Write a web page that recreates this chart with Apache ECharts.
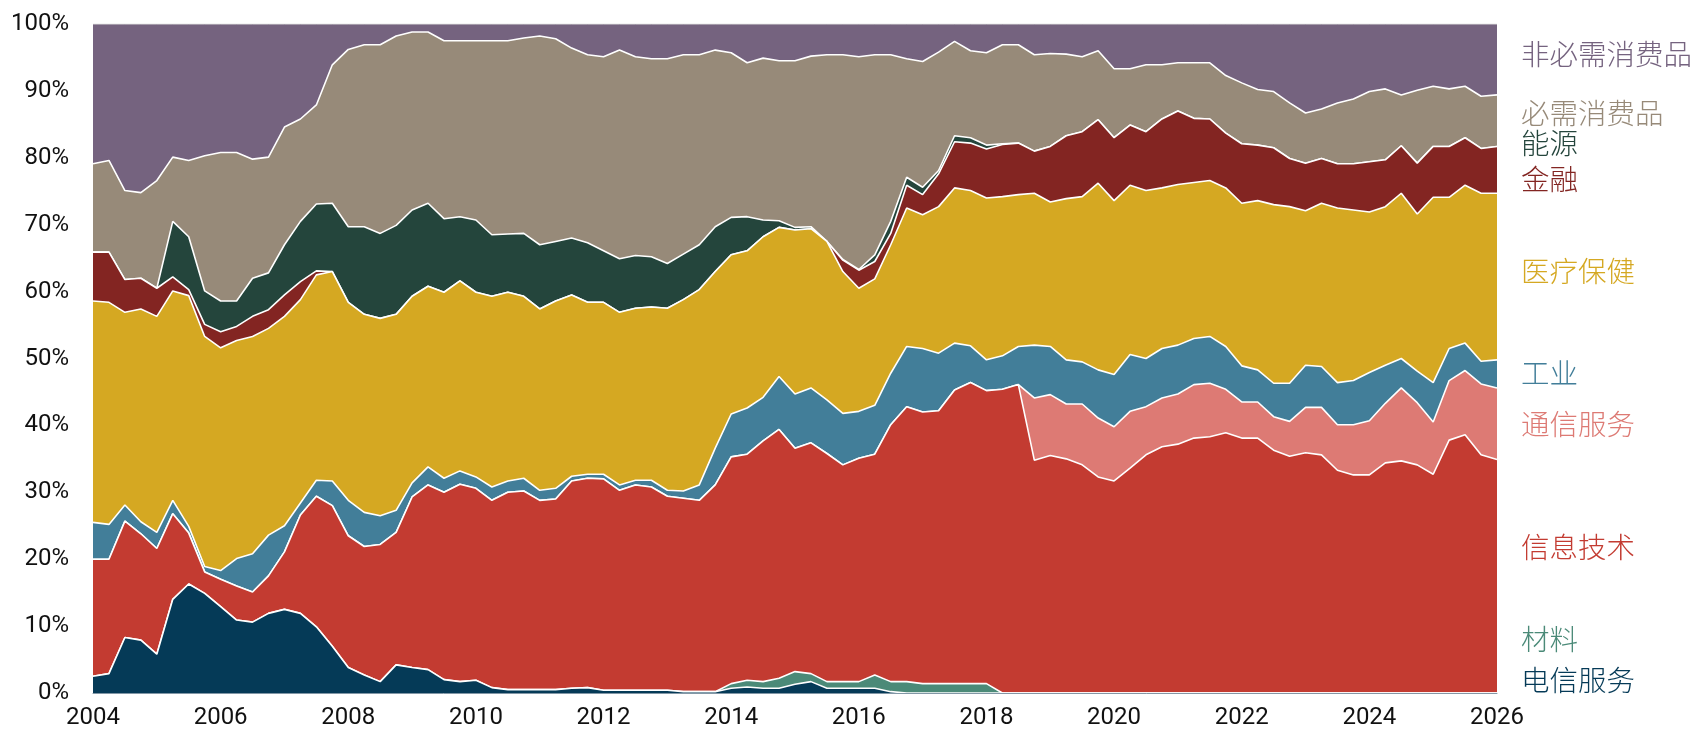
<!DOCTYPE html>
<html>
<head>
<meta charset="utf-8"/>
<style>
  html, body { margin: 0; padding: 0; background: #fff; }
  #main { width: 1697px; height: 742px; }
</style>
</head>
<body>
<div id="main"></div>
<script src="https://cdn.jsdelivr.net/npm/echarts@6.0.0/dist/echarts.min.js"></script>
<script type="text/javascript">
// 季度时间轴 (2004 - 2026)
var quarters = [2004,2004.25,2004.5,2004.75,2005,2005.25,2005.5,2005.75,2006,2006.25,2006.5,2006.75,
  2007,2007.25,2007.5,2007.75,2008,2008.25,2008.5,2008.75,2009,2009.25,2009.5,2009.75,
  2010,2010.25,2010.5,2010.75,2011,2011.25,2011.5,2011.75,2012,2012.25,2012.5,2012.75,
  2013,2013.25,2013.5,2013.75,2014,2014.25,2014.5,2014.75,2015,2015.25,2015.5,2015.75,
  2016,2016.25,2016.5,2016.75,2017,2017.25,2017.5,2017.75,2018,2018.25,2018.5,2018.75,
  2019,2019.25,2019.5,2019.75,2020,2020.25,2020.5,2020.75,2021,2021.25,2021.5,2021.75,
  2022,2022.25,2022.5,2022.75,2023,2023.25,2023.5,2023.75,2024,2024.25,2024.5,2024.75,
  2025,2025.25,2025.5,2025.75,2026];

var yTicks = [0,10,20,30,40,50,60,70,80,90,100];

// 各行业权重 (%)，自下而上
var telecom = [2.5,2.9,8.3,7.9,5.8,14.0,16.3,14.9,12.9,10.9,10.6,11.9,12.5,11.9,9.9,7.0,
  3.8,2.7,1.7,4.2,3.8,3.5,2.0,1.7,1.9,0.8,0.5,0.5,0.5,0.5,0.7,0.8,
  0.4,0.4,0.4,0.4,0.4,0.2,0.2,0.2,0.7,0.9,0.7,0.7,1.3,1.7,0.7,0.7,
  0.7,0.7,0.2,0,0,0,0,0,0,0,0,0,0,0,0,0,
  0,0,0,0,0,0,0,0,0,0,0,0,0,0,0,0,
  0,0,0,0,0,0,0,0,0];
var materials = [0,0,0,0,0,0,0,0,0,0,0,0,0,0,0,0,
  0,0,0,0,0,0,0,0,0,0,0,0,0,0,0,0,
  0,0,0,0,0,0,0,0,0.7,1.0,1.0,1.5,1.9,1.2,1.0,1.0,
  1.0,2.0,1.5,1.7,1.4,1.4,1.4,1.4,1.4,0,0,0,0,0,0,0,
  0,0,0,0,0,0,0,0,0,0,0,0,0,0,0,0,
  0,0,0,0,0,0,0,0,0];
var infoTech = [17.5,17.1,17.4,15.9,15.8,12.8,7.6,3.2,4.1,5.1,4.5,5.6,8.6,14.7,19.5,21.0,
  19.7,19.2,20.5,19.8,25.5,27.6,28.0,29.5,28.7,28.0,29.5,29.7,28.3,28.5,31.0,31.3,
  31.6,29.9,30.7,30.4,29.0,28.9,28.6,30.9,33.9,33.8,36.0,37.2,33.4,34.5,34.1,32.4,
  33.4,33.0,38.4,41.1,40.6,40.8,43.9,45.0,43.8,45.4,46.1,34.8,35.5,35.0,34.1,32.3,
  31.7,33.6,35.6,36.8,37.2,38.1,38.3,38.9,38.1,38.1,36.3,35.4,35.9,35.6,33.3,32.6,
  32.6,34.4,34.7,34.1,32.7,37.8,38.6,35.6,34.9];
var commServices = [0,0,0,0,0,0,0,0,0,0,0,0,0,0,0,0,
  0,0,0,0,0,0,0,0,0,0,0,0,0,0,0,0,
  0,0,0,0,0,0,0,0,0,0,0,0,0,0,0,0,
  0,0,0,0,0,0,0,0,0,0,0,9.3,9.1,8.2,9.1,8.8,
  8.1,8.5,7.2,7.3,7.5,8.0,8.0,6.5,5.4,5.4,5.0,5.2,6.8,7.1,6.8,7.5,
  8.1,8.9,10.9,9.3,7.8,8.9,9.6,10.6,10.7];
var industrials = [5.5,5.2,2.4,1.8,2.4,2.0,1.0,0.8,1.3,4.1,5.7,6.1,3.9,1.8,2.4,3.7,
  5.3,5.1,4.3,3.3,2.1,2.7,2.1,2.0,1.7,2.0,1.7,1.9,1.5,1.6,0.7,0.6,
  0.7,0.8,0.7,1.0,0.9,1.1,2.3,5.5,6.4,6.9,6.5,7.9,8.1,8.2,8.0,7.7,
  7.0,7.3,7.7,9.0,9.5,8.6,7.0,5.5,4.6,5.0,5.7,7.9,7.2,6.6,6.3,7.2,
  7.8,8.5,7.2,7.4,7.3,6.9,7.0,6.4,5.4,4.8,5.0,5.7,6.3,6.1,6.3,6.6,
  7.2,5.7,4.4,4.7,5.9,4.8,4.1,3.4,4.2];
var healthCare = [33.1,33.2,28.8,31.8,32.3,31.3,34.5,34.4,33.3,32.6,32.5,30.9,31.3,30.4,30.7,31.3,
  29.6,29.6,29.5,29.3,27.9,27.0,27.8,28.4,27.6,28.5,28.2,27.2,27.1,28.0,27.1,25.7,
  25.7,25.8,25.7,25.9,27.2,28.6,29.2,26.4,23.8,23.5,24.0,22.3,24.5,23.8,23.7,21.2,
  18.4,18.9,19.2,20.7,20.0,21.9,23.2,23.2,24.2,23.8,22.7,22.7,21.6,24.1,24.7,27.9,
  26.0,25.3,25.1,24.0,24.0,23.3,23.3,23.7,24.3,25.3,26.7,26.4,23.1,24.4,26.1,25.5,
  24.0,23.7,24.7,23.5,27.7,22.6,23.6,25.1,24.9];
var financials = [7.3,7.5,4.9,4.6,4.2,2.1,0.9,1.8,2.4,2.1,3.0,2.8,3.2,2.7,0.6,0,
  0,0,0,0,0,0,0,0,0,0,0,0,0,0,0,0,
  0,0,0,0,0,0,0,0,0,0,0,0,0,0,0,1.7,
  2.7,2.6,1.7,3.4,3.0,4.9,6.9,7.1,7.3,7.8,7.7,6.3,8.3,9.4,9.7,9.5,
  9.4,9.0,8.8,10.3,11.0,9.6,9.2,8.2,8.9,8.3,8.5,7.2,7.1,6.7,6.6,6.9,
  7.5,7.0,7.1,7.6,7.6,7.6,7.1,6.7,7.0];
var energy = [0,0,0,0,0,8.3,7.9,5.0,4.6,3.8,5.7,5.5,7.5,9.0,10.0,10.2,
  11.3,13.1,12.7,13.3,12.9,12.4,11.0,9.6,10.8,9.2,8.7,9.4,9.6,8.9,8.5,8.9,
  7.7,8.0,7.9,7.5,6.7,6.8,6.7,6.7,5.6,5.1,2.5,1.0,0.4,0.3,0,0.1,
  0.1,1.0,1.8,1.2,1.1,0.5,0.9,0.8,0.6,0.1,0,0,0,0,0,0,
  0,0,0,0,0,0,0,0,0,0,0,0,0,0,0,0,
  0,0,0,0,0,0,0,0,0];
var staples = [13.2,13.7,13.3,12.8,16.1,9.6,11.4,20.2,22.2,22.2,17.8,17.3,17.6,15.3,14.8,20.7,
  26.5,27.2,28.2,28.3,26.6,25.6,26.6,26.3,26.8,29.0,28.9,29.2,31.2,30.3,28.4,28.1,
  29.0,31.2,29.7,29.6,30.6,29.8,28.4,26.4,24.6,23.0,24.2,23.9,24.9,25.5,27.9,30.6,
  31.8,29.9,24.9,17.7,18.8,17.7,14.1,13.0,13.8,14.8,14.7,14.4,13.9,12.2,11.2,10.3,
  10.3,8.4,10.0,8.1,7.2,8.3,8.4,8.6,9.1,8.3,8.4,8.3,7.5,7.4,9.1,9.7,
  10.5,10.6,7.6,10.9,9.0,8.6,7.7,7.8,7.7];
var discretionary = [20.9,20.4,24.9,25.2,23.4,19.9,20.4,19.7,19.2,19.2,20.2,19.9,15.4,14.2,12.1,6.1,
  3.8,3.1,3.1,1.8,1.2,1.2,2.5,2.5,2.5,2.5,2.5,2.1,1.8,2.2,3.6,4.6,
  4.9,3.9,4.9,5.2,5.2,4.6,4.6,3.9,4.3,5.8,5.1,5.5,5.5,4.8,4.6,4.6,
  4.9,4.6,4.6,5.2,5.6,4.2,2.6,4.0,4.3,3.1,3.1,4.6,4.4,4.5,4.9,4.0,
  6.7,6.7,6.1,6.1,5.8,5.8,5.8,7.7,8.8,9.8,10.1,11.8,13.3,12.7,11.8,11.2,
  10.1,9.7,10.6,9.9,9.3,9.7,9.3,10.8,10.6];

var sectors = [
  {name: '电信服务', data: telecom, color: '#053a57', labelY: 680},
  {name: '材料', data: materials, color: '#4b8a78', labelY: 639},
  {name: '信息技术', data: infoTech, color: '#c33b31', labelY: 547},
  {name: '通信服务', data: commServices, color: '#dd7a74', labelY: 424},
  {name: '工业', data: industrials, color: '#427e99', labelY: 373},
  {name: '医疗保健', data: healthCare, color: '#d5a822', labelY: 271},
  {name: '金融', data: financials, color: '#832522', labelY: 179},
  {name: '能源', data: energy, color: '#24453c', labelY: 143},
  {name: '必需消费品', data: staples, color: '#978a79', labelY: 113},
  {name: '非必需消费品', data: discretionary, color: '#75637f', labelY: 54}
];

var myChart = echarts.init(document.getElementById('main'));

var seriesList = sectors.map(function (s, i) {
  var top = i === sectors.length - 1;
  return {
    name: s.name,
    type: 'line',
    stack: 'total',
    data: s.data,
    symbol: 'none',
    smooth: false,
    z: 30 - i,
    lineStyle: {color: top ? '#d8d8d8' : '#ffffff', width: top ? 1 : 1.6},
    areaStyle: {color: s.color, opacity: 1},
    itemStyle: {color: s.color},
    emphasis: {disabled: true}
  };
});

var labels = sectors.map(function (s) {
  return {
    type: 'text',
    x: 1521,
    y: s.labelY,
    style: {
      text: s.name,
      fill: s.color,
      font: '300 28.5px "Noto Sans CJK SC"',
      textAlign: 'left',
      verticalAlign: 'middle',
      textVerticalAlign: 'middle'
    }
  };
});

var options = {
  animation: false,
  grid: {left: 93, right: 200, top: 24, bottom: 49, containLabel: false},
  xAxis: {
    type: 'category',
    boundaryGap: false,
    data: quarters,
    axisTick: {show: false},
    axisLine: {show: true, lineStyle: {color: '#8297a6', width: 1}},
    axisLabel: {
      interval: 7,
      margin: 13,
      color: '#111',
      fontFamily: 'Roboto',
      fontSize: 24,
      formatter: function (v) { return String(Math.round(Number(v))); }
    },
    splitLine: {show: false},
    z: 40
  },
  yAxis: {
    type: 'value',
    min: yTicks[0],
    max: yTicks[yTicks.length - 1],
    interval: 10,
    axisLine: {show: false},
    axisTick: {show: false},
    splitLine: {show: false},
    axisLabel: {
      margin: 24,
      color: '#111',
      fontFamily: 'Roboto',
      fontSize: 24,
      formatter: '{value}%'
    }
  },
  series: seriesList,
  graphic: labels
};

myChart.setOption(options);
</script>
</body>
</html>
